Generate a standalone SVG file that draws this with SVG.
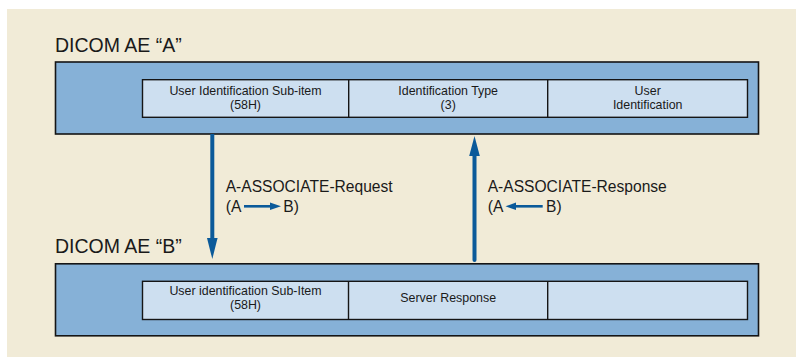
<svg xmlns="http://www.w3.org/2000/svg" width="796" height="357" viewBox="0 0 796 357">
<style>
.bg{fill:#f1ebd7}
.outer{fill:#86b1d7;stroke:#151515;stroke-width:1.6}
.inner{fill:#cddff0;stroke:#151515;stroke-width:1.4}
.div{stroke:#151515;stroke-width:1.4}
.title{font-family:"Liberation Sans",Arial,sans-serif;font-size:19.5px;fill:#1a1a1a}
.cell{font-family:"Liberation Sans",Arial,sans-serif;font-size:12.4px;fill:#1a1a1a;text-anchor:middle}
.lbl{font-family:"Liberation Sans",Arial,sans-serif;font-size:15.6px;fill:#1a1a1a}
.conn{stroke:#0b5a9a;stroke-width:4;fill:none}
.small{stroke:#0b5a9a;stroke-width:2.6;fill:none}
.head{fill:#0b5a9a}
</style>
<rect class="bg" x="7" y="9" width="789" height="348"/>

<g id="nodeA">
<text class="title" x="55" y="52.3">DICOM AE “A”</text>
<rect class="outer" x="55.5" y="62" width="703" height="72"/>
<rect class="inner" x="142.5" y="79.7" width="605" height="37.6"/>
<line class="div" x1="348.7" y1="79.7" x2="348.7" y2="117.3"/>
<line class="div" x1="547.7" y1="79.7" x2="547.7" y2="117.3"/>
<text class="cell" x="245.5" y="95.2">User Identification Sub-item</text>
<text class="cell" x="245.5" y="108.6">(58H)</text>
<text class="cell" x="448.2" y="95.2">Identification Type</text>
<text class="cell" x="448.2" y="108.6">(3)</text>
<text class="cell" x="647.7" y="95.2">User</text>
<text class="cell" x="647.7" y="108.6">Identification</text>
</g>

<g id="nodeB">
<text class="title" x="55" y="253">DICOM AE “B”</text>
<rect class="outer" x="55.5" y="263.8" width="703" height="72"/>
<rect class="inner" x="142.5" y="281.3" width="605" height="38.2"/>
<line class="div" x1="348.5" y1="281.3" x2="348.5" y2="319.5"/>
<line class="div" x1="547.7" y1="281.3" x2="547.7" y2="319.5"/>
<text class="cell" x="245.5" y="295.3">User identification Sub-Item</text>
<text class="cell" x="245.5" y="308.7">(58H)</text>
<text class="cell" x="448.2" y="302">Server Response</text>
</g>

<g id="connectors">
<line class="conn" x1="212.3" y1="134" x2="212.3" y2="241"/>
<polygon class="head" points="207,238 217.6,238 212.3,259"/>
<line class="conn" x1="474.5" y1="260" x2="474.5" y2="153" stroke-linecap="round"/>
<polygon class="head" points="469.2,156 479.8,156 474.5,136"/>
<text class="lbl" x="225.7" y="192">A-ASSOCIATE-Request</text>
<text class="lbl" x="225.7" y="211.5">(A</text>
<line class="small" x1="244" y1="206.3" x2="272" y2="206.3"/>
<polygon class="head" points="270,202.6 281,206.3 270,210"/>
<text class="lbl" x="283.3" y="211.5">B)</text>
<text class="lbl" x="487.7" y="192">A-ASSOCIATE-Response</text>
<text class="lbl" x="487.7" y="211.5">(A</text>
<line class="small" x1="514" y1="206.3" x2="542.7" y2="206.3"/>
<polygon class="head" points="516,202.6 505.5,206.3 516,210"/>
<text class="lbl" x="546" y="211.5">B)</text>
</g>
</svg>
